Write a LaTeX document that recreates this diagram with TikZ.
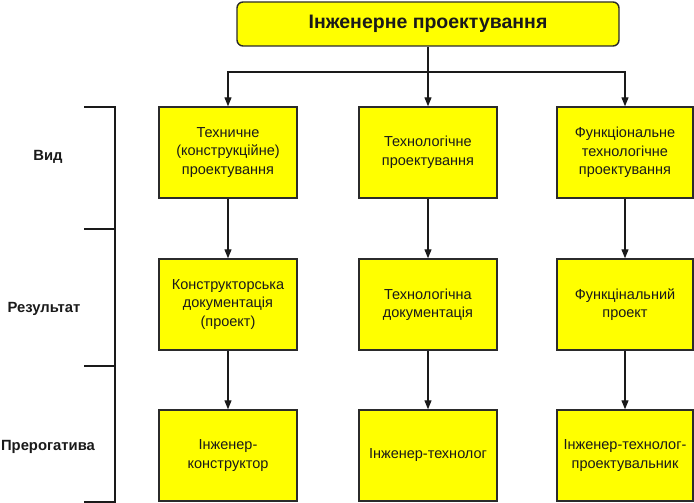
\documentclass[tikz,border=0pt]{standalone}
\usepackage{fontspec}
\setmainfont{Liberation Sans}
\usetikzlibrary{arrows.meta}
\definecolor{boxyellow}{HTML}{FFFF00}
\definecolor{ink}{HTML}{1A1A1A}
\definecolor{edge}{HTML}{2B2B2B}
\tikzset{
  box/.style={draw=edge, line width=1.4pt, fill=boxyellow, minimum width=137pt, minimum height=91pt,
    inner sep=2pt, align=center, text=ink, font=\fontsize{14.5}{18.5}\selectfont},
  topbox/.style={draw=edge, line width=1.4pt, fill=boxyellow, rounded corners=6pt, minimum width=382pt,
    minimum height=44pt, text=ink, font=\fontsize{19.5}{21}\selectfont\bfseries},
  lbl/.style={text=ink, font=\fontsize{14.8}{16}\selectfont\bfseries},
  conn/.style={draw=ink, line width=1.2pt, -{Triangle[length=9pt,width=7pt]}},
  brk/.style={draw=ink, line width=1.2pt}
}
\begin{document}
\begin{tikzpicture}[x=1pt, y=-1pt]
\useasboundingbox (0,0) rectangle (694,503);
\node[topbox] (top) at (428,24) {Інженерне проектування};
\node[box, minimum width=138pt] (a1) at (228,152.5) {Техничне\\(конструкційне)\\проектування};
\node[box, minimum width=138pt] (b1) at (428,152.5) {Технологічне\\проектування};
\node[box, minimum width=136pt] (c1) at (625,152.5) {Функціональне\\технологічне\\проектування};
\node[box, minimum width=138pt] (a2) at (228,304.5) {Конструкторська\\документація\\(проект)};
\node[box, minimum width=138pt] (b2) at (428,304.5) {Технологічна\\документація};
\node[box, minimum width=136pt] (c2) at (625,304.5) {Функцінальний\\проект};
\node[box, minimum width=138pt] (a3) at (228,455.5) {Інженер-\\конструктор};
\node[box, minimum width=138pt] (b3) at (428,455.5) {Інженер-технолог};
\node[box, minimum width=136pt] (c3) at (625,455.5) {Інженер-технолог-\\проектувальник};
\coordinate (split) at (428,72);
\draw[conn] (top.south) -- (b1.north);
\draw[conn] (split) -| (a1.north);
\draw[conn] (split) -| (c1.north);
\draw[conn] (a1) -- (a2);
\draw[conn] (b1) -- (b2);
\draw[conn] (c1) -- (c2);
\draw[conn] (a2) -- (a3);
\draw[conn] (b2) -- (b3);
\draw[conn] (c2) -- (c3);
\coordinate (t1) at (84,107);
\coordinate (t2) at (84,229);
\coordinate (t3) at (84,366);
\coordinate (t4) at (84,502);
\coordinate (v1) at (115,107);
\coordinate (v4) at (115,502);
\draw[brk] (t1) -- (v1) -- (v4) -- (t4);
\draw[brk] (t2) -- (t2 -| v1);
\draw[brk] (t3) -- (t3 -| v1);
\node[lbl] (l1) at (48,157) {Вид};
\node[lbl] (l2) at (44,309) {Результат};
\node[lbl] (l3) at (48,447) {Прерогатива};
\end{tikzpicture}
\end{document}
